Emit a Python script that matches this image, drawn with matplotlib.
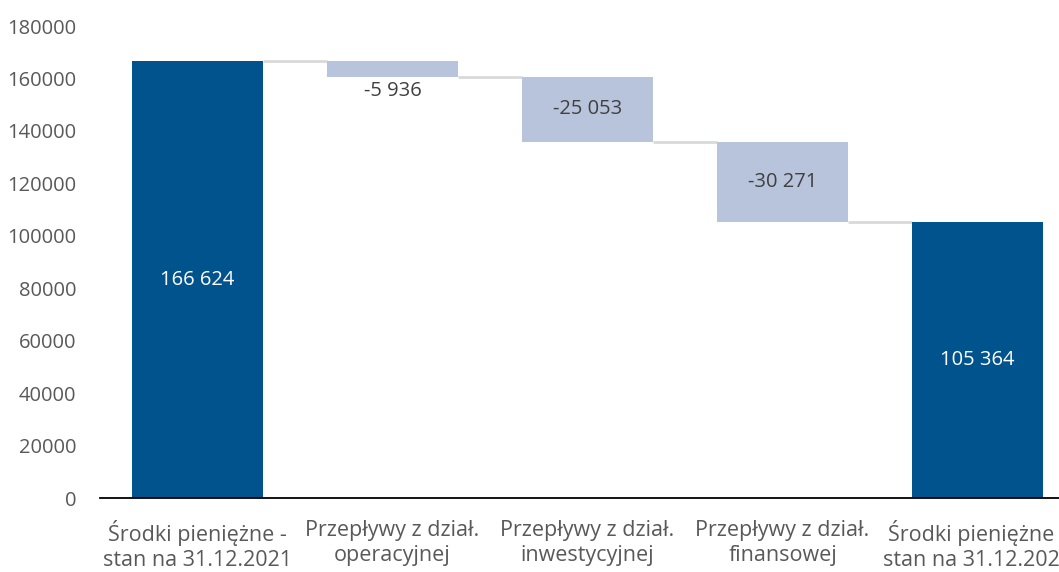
import matplotlib.pyplot as plt

plt.rcParams['font.family'] = ['Open Sans', 'DejaVu Sans']

# Cash flow bridge: opening balance, three movements, closing balance
categories = ['Środki pieniężne -\nstan na 31.12.2021',
              'Przepływy z dział.\noperacyjnej',
              'Przepływy z dział.\ninwestycyjnej',
              'Przepływy z dział.\nfinansowej',
              'Środki pieniężne -\nstan na 31.12.2022']
opening = 166624
changes = [-5936, -25053, -30271]
closing = 105364
yticks = [0, 20000, 40000, 60000, 80000, 100000, 120000, 140000, 160000, 180000]

dark = '#00538C'
light = '#B8C4DB'
conn = '#D9D9D9'


def fmt(v):
    return f'{v:,}'.replace(',', ' ')


fig = plt.figure(figsize=(10.59, 5.72), dpi=100)
ax = fig.add_axes([100 / 1059, 74 / 572, 975 / 1059, 472 / 572])

width = 0.667
bottoms = []
heights = []
level = opening
for c in changes:
    bottoms.append(level + c)
    heights.append(-c)
    level += c

# totals
ax.bar([0, 4], [opening, closing], width=width, color=dark, zorder=2)
# floating steps
xs = [1, 2, 3]
ax.bar(xs, heights, bottom=bottoms, width=width, color=light, zorder=2)

# connector lines between bars
levels = [opening]
for c in changes:
    levels.append(levels[-1] + c)
for i, lv in enumerate(levels):
    ax.plot([i + width / 2, i + 1 - width / 2], [lv, lv], color=conn,
            lw=2, zorder=1, solid_capstyle='butt')

# value labels
fs = 14.5
ax.text(0, opening / 2, fmt(opening), ha='center', va='center',
        color='white', fontsize=fs)
ax.text(4, closing / 2, fmt(closing), ha='center', va='center',
        color='white', fontsize=fs)
for x, b, h, c in zip(xs, bottoms, heights, changes):
    if h < 10000:
        ax.text(x, b - 1800, fmt(c), ha='center', va='top',
                color='#404040', fontsize=fs)
    else:
        ax.text(x, b + h / 2, fmt(c), ha='center', va='center',
                color='#404040', fontsize=fs)

ax.set_xlim(-0.5, 4.5)
ax.set_ylim(0, 180000)
ax.set_yticks(yticks)
ax.set_yticklabels([str(t) for t in yticks])
ax.set_xticks(range(5))
ax.set_xticklabels(categories, linespacing=1.25, fontsize=15.5)
ax.tick_params(axis='both', length=0, colors='#595959')
ax.tick_params(axis='y', labelsize=fs, pad=17)
ax.tick_params(axis='x', pad=16)
for s in ['top', 'right', 'left']:
    ax.spines[s].set_visible(False)
ax.spines['bottom'].set_color('black')
ax.spines['bottom'].set_linewidth(1.3)
ax.spines['bottom'].set_zorder(3)

fig.savefig('out.png', dpi=100)
